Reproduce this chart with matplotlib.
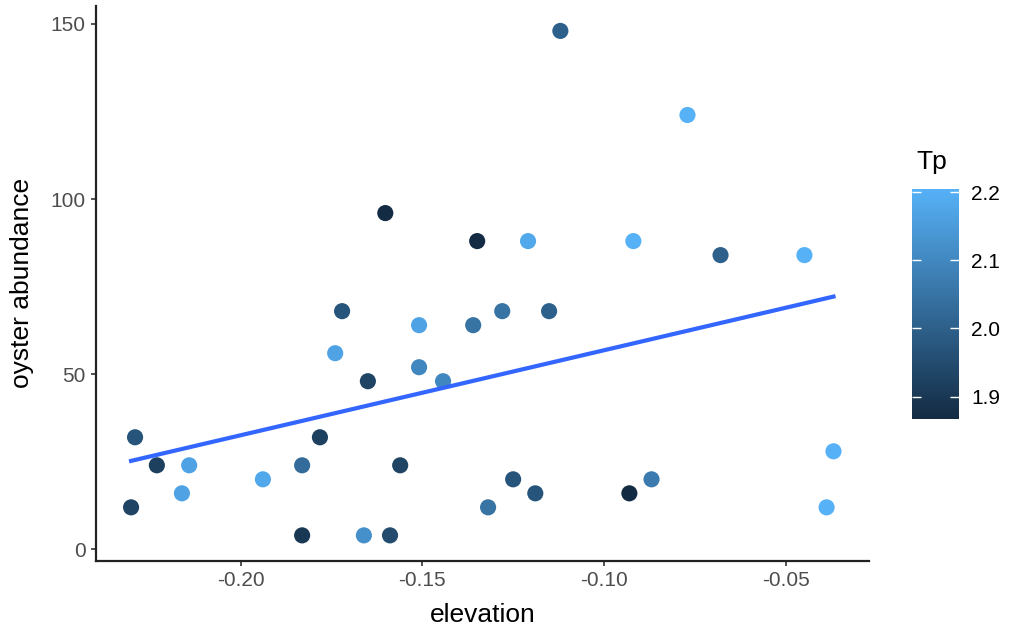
import matplotlib
matplotlib.use("Agg")
import matplotlib.pyplot as plt
import numpy as np
from matplotlib.colors import LinearSegmentedColormap, Normalize

plt.rcParams['font.family'] = ['Liberation Sans', 'DejaVu Sans']

# site data: elevation, oyster count, Tp
elevation = [-0.2291, -0.2302, -0.2231, -0.2162, -0.2142, -0.1939, -0.1831, -0.1831,
             -0.1782, -0.1740, -0.1721, -0.1650, -0.1661, -0.1602, -0.1589, -0.1561,
             -0.1509, -0.1509, -0.1443, -0.1360, -0.1349, -0.1319, -0.1280, -0.1250,
             -0.1209, -0.1189, -0.1151, -0.1120, -0.0930, -0.0919, -0.0869, -0.0770,
             -0.0679, -0.0448, -0.0387, -0.0368]
abundance = [32, 12, 24, 16, 24, 20, 24, 4,
             32, 56, 68, 48, 4, 96, 4, 24,
             64, 52, 48, 64, 88, 12, 68, 20,
             88, 16, 68, 148, 16, 88, 20, 124,
             84, 84, 12, 28]
tp = [1.97, 1.93, 1.92, 2.17, 2.17, 2.18, 2.03, 1.90,
      1.92, 2.17, 1.97, 1.93, 2.12, 1.867, 1.95, 1.93,
      2.17, 2.10, 2.10, 2.05, 1.867, 2.05, 2.05, 1.97,
      2.18, 1.97, 2.00, 2.00, 1.867, 2.205, 2.07, 2.205,
      2.00, 2.205, 2.205, 2.205]
cbar_ticks = [1.9, 2.0, 2.1, 2.2]

x = np.array(elevation)
y = np.array(abundance)
c = np.array(tp)

cmap = LinearSegmentedColormap.from_list("tp", ["#132B43", "#56B1F7"])
norm = Normalize(vmin=c.min(), vmax=c.max())

fig = plt.figure(figsize=(10.10, 6.32), dpi=100)
ax = fig.add_axes([0.095, 0.113, 0.765, 0.878])

ax.scatter(x, y, c=c, cmap=cmap, norm=norm, s=135, linewidths=0, zorder=3)

# linear fit across the data range
slope, icpt = np.polyfit(x, y, 1)
xs = np.array([x.min(), x.max()])
ax.plot(xs, slope * xs + icpt, color="#3366FF", linewidth=3, zorder=4)

xr = x.max() - x.min()
yr = y.max() - y.min()
ax.set_xlim(x.min() - 0.05 * xr, x.max() + 0.05 * xr)
ax.set_ylim(y.min() - 0.05 * yr, y.max() + 0.05 * yr)
ax.set_xticks([-0.20, -0.15, -0.10, -0.05])
ax.set_xticklabels(["-0.20", "-0.15", "-0.10", "-0.05"])
ax.set_yticks([0, 50, 100, 150])

for s in ["top", "right"]:
    ax.spines[s].set_visible(False)
for s in ["left", "bottom"]:
    ax.spines[s].set_color("#222222")
    ax.spines[s].set_linewidth(1.6)
ax.tick_params(length=3.5, width=1.2, color="#333333", labelsize=15,
               labelcolor="#4D4D4D", pad=4)
ax.set_xlabel("elevation", fontsize=19, color="black", labelpad=9)
ax.set_ylabel("oyster abundance", fontsize=19, color="black", labelpad=12)

# colour bar for Tp
cax = fig.add_axes([0.903, 0.337, 0.0465, 0.364])
sm = plt.cm.ScalarMappable(norm=norm, cmap=cmap)
cb = fig.colorbar(sm, cax=cax, ticks=cbar_ticks)
cb.outline.set_visible(False)
cax.tick_params(direction="in", color="white", length=6.5, width=1,
                left=True, right=True, labelsize=15, labelcolor="black", pad=9)
cax.set_yticklabels([f"{t:.1f}" for t in cbar_ticks])
fig.text(0.907, 0.743, "Tp", fontsize=19, ha="left", va="center")

fig.savefig("out.png", dpi=100)
